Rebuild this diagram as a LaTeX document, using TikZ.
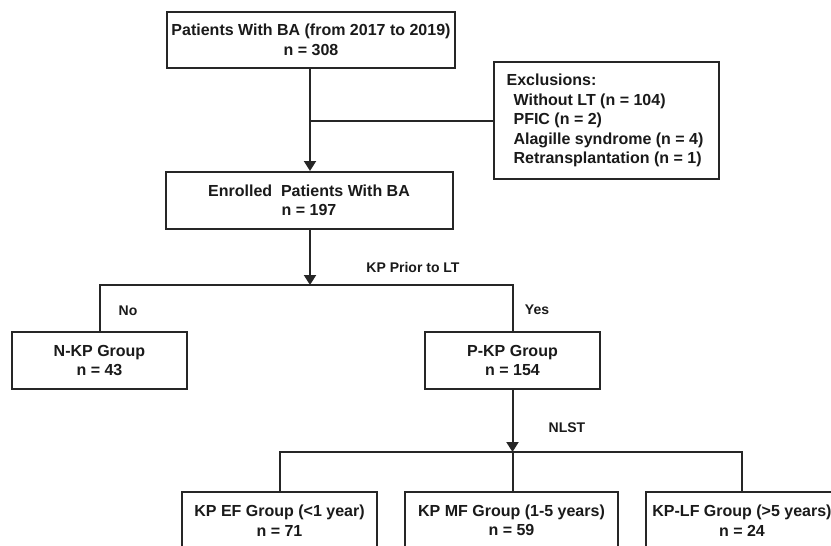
\documentclass[tikz,border=0pt]{standalone}
\usepackage{fontspec}
\setmainfont{Liberation Sans}
\usetikzlibrary{arrows.meta}
\definecolor{ink}{HTML}{1A1A1A}
\definecolor{linec}{HTML}{262626}
\tikzset{
  box/.style={draw=linec, line width=2pt, rectangle, align=center, text=ink,
    font=\fontsize{16}{19.5}\selectfont\bfseries, inner sep=0pt},
  lbl/.style={text=ink, font=\fontsize{14}{16}\selectfont\bfseries, inner sep=0pt},
  conn/.style={draw=linec, line width=2pt},
  arr/.style={conn, -{Triangle[width=12pt,length=10pt]}}
}
\begin{document}
\begin{tikzpicture}[x=1pt,y=-1pt]
\useasboundingbox (0,0) rectangle (831,546);
\clip (0,0) rectangle (831,546);
\fill[white] (0,0) rectangle (831,546);

\node[box, minimum width=288pt, minimum height=56pt] (top) at (311,40)
  {Patients With BA (from 2017 to 2019)\\n = 308};
\node[box, minimum width=225pt, minimum height=117pt, align=left] (excl) at (606.5,120.5)
  {Exclusions:\hspace*{110pt}\\
   \hspace*{7pt}Without LT (n = 104)\\
   \hspace*{7pt}PFIC (n = 2)\\
   \hspace*{7pt}Alagille syndrome (n = 4)\\
   \hspace*{7pt}Retransplantation (n = 1)};
\node[box, minimum width=287pt, minimum height=57pt] (enr) at (309,200.5)
  {Enrolled\ \ Patients With BA\\n = 197};
\node[box, minimum width=175pt, minimum height=57pt] (nkp) at (99.5,360.5)
  {N-KP Group\\n = 43};
\node[box, minimum width=175pt, minimum height=57pt] (pkp) at (512.5,360.5)
  {P-KP Group\\n = 154};
\node[box, minimum width=195pt, minimum height=57pt] (ef) at (279.5,520.5)
  {KP EF Group (<1 year)\\n = 71};
\node[box, minimum width=213pt, minimum height=57pt] (mf) at (511.5,520.5)
  {KP MF Group (1-5 years)\\n = 59};
\node[box, minimum width=192pt, minimum height=57pt] (lf) at (742,520.5)
  {KP-LF Group (>5 years)\\n = 24};

\coordinate (j0) at (310,120.5);
\coordinate (j1) at (310,285);
\coordinate (j2) at (512.5,452);

% top -> enrolled
\draw[arr] (top.south -| j1) -- (enr.north -| j1);
\draw[conn] (j0) -- (excl.west);

% enrolled -> split
\draw[arr] (enr.south -| j1) -- (j1);
\draw[conn] (nkp.north) -- (nkp.north |- j1) -- (pkp.north |- j1) -- (pkp.north);

% pkp -> split
\draw[arr] (pkp.south) -- (j2);
\draw[conn] (ef.north) -- (ef.north |- j2) -- (lf.north |- j2) -- (lf.north);
\draw[conn] (j2) -- (mf.north -| j2);

\node[lbl] (kplbl) at (413,267) {KP Prior to LT};
\node[lbl] (nolbl) at (128,311) {No};
\node[lbl] (yeslbl) at (537,310) {Yes};
\node[lbl] (nlst) at (567,428) {NLST};
\end{tikzpicture}
\end{document}
